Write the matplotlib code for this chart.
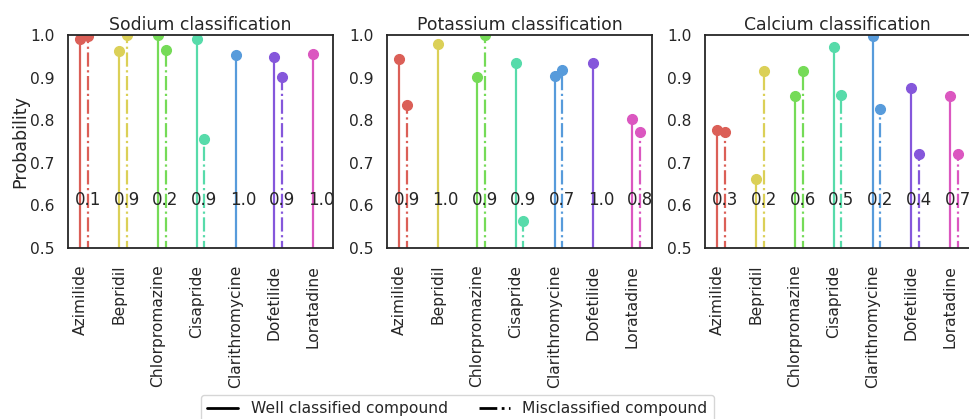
import numpy as np
import matplotlib.pyplot as plt
import seaborn as sns
from matplotlib.lines import Line2D

sns.set_style('white')
plt.rcParams['font.family'] = ['DejaVu Sans']
plt.rcParams['font.size'] = 12
plt.rcParams['xtick.labelsize'] = 11.2
plt.rcParams['ytick.labelsize'] = 11.2
plt.rcParams['axes.titlesize'] = 12.4
plt.rcParams['axes.labelsize'] = 12.6

compounds = ['Azimilide', 'Bepridil', 'Chlorpromazine', 'Cisapride',
             'Clarithromycine', 'Dofetilide', 'Loratadine']

# probability of well classified / misclassified compounds (nan = none)
sodium_well = [0.990, 0.963, 1.000, 0.992, 0.953, 0.949, 0.957]
sodium_mis = [0.997, 1.000, 0.966, 0.757, np.nan, 0.901, np.nan]
sodium_frac = ['0.1', '0.9', '0.2', '0.9', '1.0', '0.9', '1.0']

potassium_well = [0.944, 0.980, 0.902, 0.934, 0.905, 0.934, 0.804]
potassium_mis = [0.835, np.nan, 1.000, 0.564, 0.919, np.nan, 0.772]
potassium_frac = ['0.9', '1.0', '0.9', '0.9', '0.7', '1.0', '0.8']

calcium_well = [0.777, 0.662, 0.858, 0.973, 0.998, 0.877, 0.858]
calcium_mis = [0.773, 0.917, 0.915, 0.860, 0.826, 0.721, 0.721]
calcium_frac = ['0.3', '0.2', '0.6', '0.5', '0.2', '0.4', '0.7']

colors = sns.color_palette('hls', len(compounds))


def plot_stems(ax, well, mis, frac, title):
    '''
    Draw one lollipop panel: solid stem for the well classified compound,
    dash-dot stem for the misclassified one, fraction written at y=0.6
    '''
    x = np.arange(len(compounds))
    for i in range(len(compounds)):
        c = colors[i]
        ax.vlines(x[i], 0, well[i], color=c, lw=1.6, linestyle='-')
        ax.plot(x[i], well[i], 'o', color=c, ms=7)
        if not np.isnan(mis[i]):
            ax.vlines(x[i] + 0.2, 0, mis[i], color=c, lw=1.6, linestyle='-.')
            ax.plot(x[i] + 0.2, mis[i], 'o', color=c, ms=7)
        ax.text(x[i] + 0.2, 0.6, frac[i], ha='center', fontsize=12, color='.15')
    ax.set_xlim(-0.31, 6.51)
    ax.set_ylim(0.5, 1.0)
    ax.set_yticks([0.5, 0.6, 0.7, 0.8, 0.9, 1.0])
    ax.set_xticks(x)
    ax.set_xticklabels(compounds, rotation=90)
    ax.tick_params(axis='y', length=0, pad=9.5)
    ax.tick_params(axis='x', length=0, pad=12)
    ax.set_title(title, pad=4)
    for s in ax.spines.values():
        s.set_linewidth(1.3)


fig = plt.figure(figsize=(9.69, 4.19), dpi=100)
ax1 = fig.add_axes([0.0702, 0.408, 0.2735, 0.508])
ax2 = fig.add_axes([0.3994, 0.408, 0.2735, 0.508])
ax3 = fig.add_axes([0.7276, 0.408, 0.2735, 0.508])

plot_stems(ax1, sodium_well, sodium_mis, sodium_frac, 'Sodium classification')
plot_stems(ax2, potassium_well, potassium_mis, potassium_frac, 'Potassium classification')
plot_stems(ax3, calcium_well, calcium_mis, calcium_frac, 'Calcium classification')
ax1.set_ylabel('Probability', labelpad=1)

handles = [Line2D([0], [0], color='k', lw=2, linestyle='-'),
           Line2D([0], [0], color='k', lw=2, linestyle='-.')]
fig.legend(handles, ['Well classified compound', 'Misclassified compound'],
           loc='upper center', bbox_to_anchor=(0.472, 0.076), ncol=2, fontsize=11.2)

fig.savefig('out.png', dpi=100)
